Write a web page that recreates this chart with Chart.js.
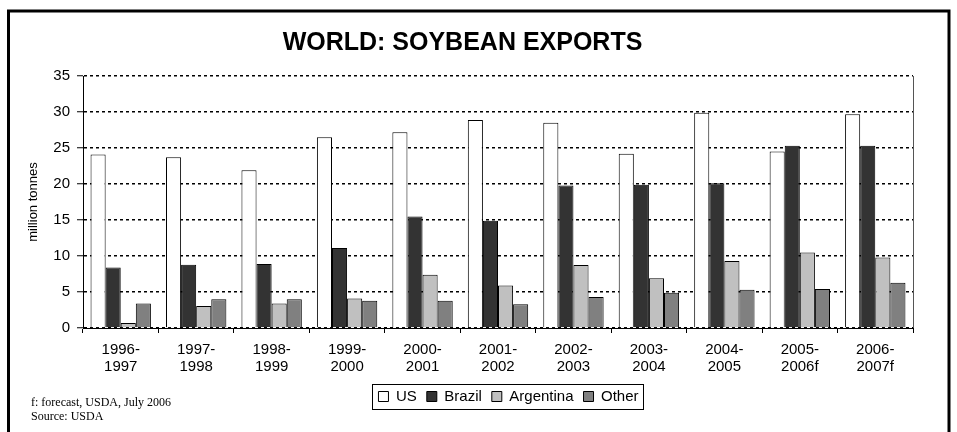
<!DOCTYPE html>
<html>
<head>
<meta charset="utf-8">
<script src="https://cdn.jsdelivr.net/npm/chart.js@4.4.0/dist/chart.umd.min.js"></script>
<style>
  html, body { margin: 0; padding: 0; background: #fff; }
  #wrap { width: 957px; height: 432px; }
</style>
</head>
<body>
<div id="wrap"><canvas id="soyChart" width="957" height="432"></canvas></div>
<script>
const seasons = [
    ['1996-', '1997'], ['1997-', '1998'], ['1998-', '1999'], ['1999-', '2000'],
    ['2000-', '2001'], ['2001-', '2002'], ['2002-', '2003'], ['2003-', '2004'],
    ['2004-', '2005'], ['2005-', '2006f'], ['2006-', '2007f']
];
const usExports = [24.1, 23.7, 21.9, 26.5, 27.2, 28.9, 28.5, 24.2, 29.9, 24.5, 29.7];
const brazilExports = [8.4, 8.8, 8.9, 11.1, 15.5, 14.9, 19.8, 19.9, 20.1, 25.3, 25.3];
const argentinaExports = [0.7, 3.05, 3.4, 4.1, 7.4, 5.9, 8.75, 6.9, 9.3, 10.5, 9.8];
const otherExports = [3.4, 4.0, 4.0, 3.8, 3.8, 3.3, 4.3, 4.9, 5.3, 5.4, 6.3];
const footnotes = ['f: forecast, USDA, July 2006', 'Source: USDA'];

const sansFont = "'Liberation Sans', Arial, sans-serif";

// white background, outer frame, right edge of the plot, footnotes, legend box
const framePlugin = {
    id: 'frame',
    beforeDraw(chart) {
        const ctx = chart.ctx;
        ctx.save();
        ctx.fillStyle = '#fff';
        ctx.fillRect(0, 0, chart.width, chart.height);
        ctx.restore();
    },
    afterLayout(chart) {
        const lg = chart.legend;
        const dx = 46;
        lg.left += dx;
        lg.right += dx;
        lg.legendHitBoxes.forEach(b => { b.left += dx; });
    },
    afterDraw(chart) {
        const ctx = chart.ctx;
        const area = chart.chartArea;
        ctx.save();
        ctx.strokeStyle = '#000';
        ctx.lineWidth = 3;
        ctx.beginPath();
        ctx.moveTo(8.5, 440);
        ctx.lineTo(8.5, 11);
        ctx.lineTo(949, 11);
        ctx.lineTo(949, 440);
        ctx.stroke();

        ctx.lineWidth = 1;
        ctx.strokeStyle = '#555';
        ctx.beginPath();
        ctx.moveTo(Math.round(area.right) + 0.5, area.top);
        ctx.lineTo(Math.round(area.right) + 0.5, area.bottom);
        ctx.stroke();

        const boxes = chart.legend.legendHitBoxes;
        if (boxes.length) {
            const first = boxes[0];
            const last = boxes[boxes.length - 1];
            const x0 = Math.round(first.left - 6) + 0.5;
            const x1 = Math.round(last.left + last.width + 4) + 0.5;
            const y0 = Math.round(first.top - 5) + 0.5;
            const y1 = Math.round(first.top + first.height + 5) + 0.5;
            ctx.strokeStyle = '#000';
            ctx.strokeRect(x0, y0, x1 - x0, y1 - y0);
        }

        ctx.fillStyle = '#000';
        ctx.font = "12px 'Liberation Serif', 'Times New Roman', serif";
        ctx.textBaseline = 'alphabetic';
        ctx.fillText(footnotes[0], 31, 406);
        ctx.fillText(footnotes[1], 31, 420);
        ctx.restore();
    }
};

function makeDataset(label, data, color) {
    return {
        label: label,
        data: data,
        backgroundColor: color,
        borderColor: '#000',
        borderWidth: 1,
        categoryPercentage: 0.8,
        barPercentage: 1.0
    };
}

new Chart(document.getElementById('soyChart'), {
    type: 'bar',
    data: {
        labels: seasons,
        datasets: [
            makeDataset('US', usExports, '#ffffff'),
            makeDataset('Brazil', brazilExports, '#333333'),
            makeDataset('Argentina', argentinaExports, '#c0c0c0'),
            makeDataset('Other', otherExports, '#808080')
        ]
    },
    options: {
        responsive: false,
        animation: false,
        layout: {
            padding: { left: 12, right: 44, top: 11, bottom: 18 }
        },
        plugins: {
            title: {
                display: true,
                text: 'WORLD: SOYBEAN EXPORTS',
                color: '#000',
                font: { family: sansFont, size: 25, weight: 'bold' },
                padding: { top: 17, bottom: 18 }
            },
            legend: {
                position: 'bottom',
                labels: {
                    color: '#000',
                    font: { family: sansFont, size: 15 },
                    boxWidth: 10,
                    boxHeight: 10,
                    padding: 10
                }
            },
            tooltip: { enabled: false }
        },
        scales: {
            x: {
                afterFit(scale) { scale.height -= 5; },
                grid: {
                    offset: true,
                    drawOnChartArea: false,
                    color: '#000',
                    tickLength: 5
                },
                border: { color: '#000', width: 1 },
                ticks: {
                    color: '#000',
                    font: { family: sansFont, size: 15, lineHeight: 1.1 },
                    padding: 9,
                    maxRotation: 0,
                    autoSkip: false
                }
            },
            y: {
                min: 0,
                max: 35,
                afterFit(scale) { scale.width = 71; },
                ticks: {
                    stepSize: 5,
                    color: '#000',
                    padding: 7,
                    font: { family: sansFont, size: 15 }
                },
                grid: {
                    color: '#000',
                    lineWidth: 1.5,
                    tickLength: 6,
                    tickColor: '#000',
                    tickWidth: 1,
                    tickBorderDash: [],
                    borderDash: [3, 3]
                },
                border: { color: '#000', width: 1, dash: [3, 3] },
                title: {
                    display: true,
                    text: 'million tonnes',
                    color: '#000',
                    font: { family: sansFont, size: 13 },
                    padding: { top: 14, bottom: 0 }
                }
            }
        }
    },
    plugins: [framePlugin]
});
</script>
</body>
</html>
